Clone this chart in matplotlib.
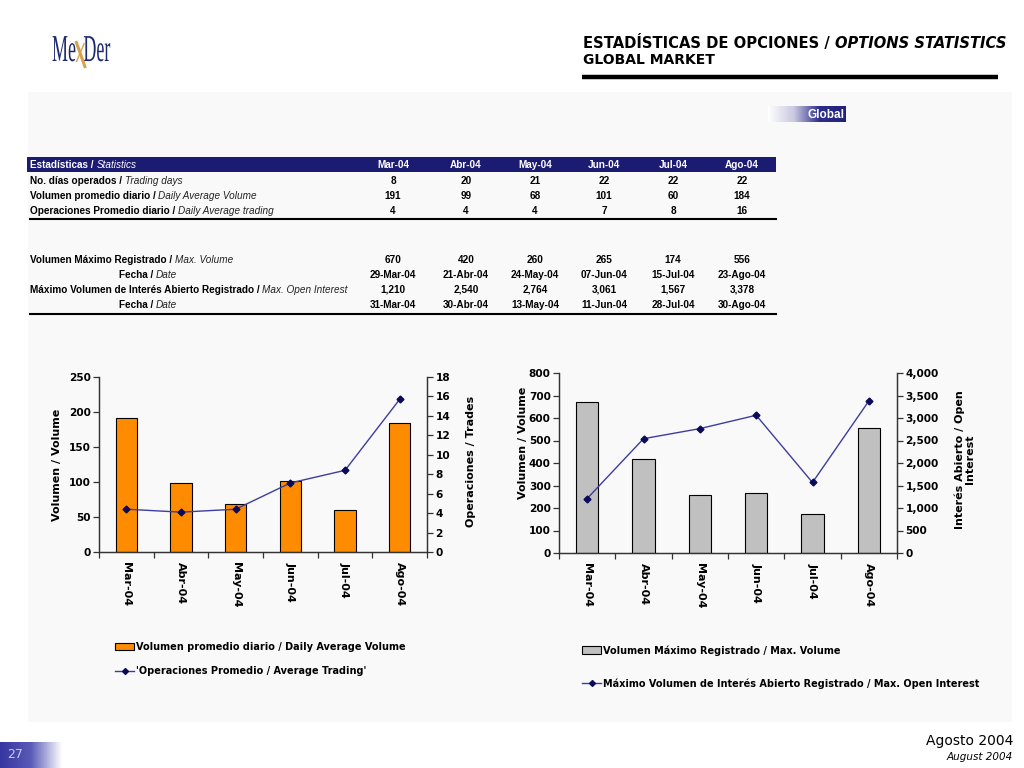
import numpy as np
import matplotlib
matplotlib.use("Agg")
import matplotlib.pyplot as plt
from matplotlib.patches import Rectangle, Patch, PathPatch
from matplotlib.lines import Line2D
from matplotlib.textpath import TextPath
from matplotlib.font_manager import FontProperties
from matplotlib.transforms import Affine2D
from matplotlib.colors import LinearSegmentedColormap
from matplotlib.ticker import FuncFormatter

# ---------------- data ----------------
months_table = ['Mar-04', 'Abr-04', 'May-04', 'Jun-04', 'Jul-04', 'Ago-04']
months_chart = ['Mar-04', 'Abr-04', 'May-04', 'Jun-04', 'Jul-04', 'Ago-04']
trading_days = [8, 20, 21, 22, 22, 22]
daily_avg_volume = [191, 99, 68, 101, 60, 184]
daily_avg_trading = [4, 4, 4, 7, 8, 16]
avg_trades_line = [4.4, 4.1, 4.4, 7.1, 8.4, 15.7]
max_volume = [670, 420, 260, 265, 174, 556]
max_volume_date = ['29-Mar-04', '21-Abr-04', '24-May-04', '07-Jun-04', '15-Jul-04', '23-Ago-04']
max_open_interest = [1210, 2540, 2764, 3061, 1567, 3378]
max_oi_date = ['31-Mar-04', '30-Abr-04', '13-May-04', '11-Jun-04', '28-Jul-04', '30-Ago-04']

NAVY = '#1b1b72'
ORANGE = '#FF8C00'
GRAY = '#C0C0C0'
LINE_C = '#3d3d9e'
MARK_C = '#0a0a5a'

fig = plt.figure(figsize=(10.24, 7.68), dpi=100)
fig.patch.set_facecolor('white')

# overlay axes in pixel coordinates
ov = fig.add_axes([0, 0, 1, 1], zorder=0)
ov.set_xlim(0, 1024)
ov.set_ylim(768, 0)
ov.axis('off')

# light content panel
ov.add_patch(Rectangle((28, 92), 984, 630, facecolor='#f9f9f9', edgecolor='none'))

# ---------------- logo ----------------
def path_text(s, x, y, sx, sy, color, family='Liberation Serif', weight='normal', style='normal'):
    tp = TextPath((0, 0), s, size=1, prop=FontProperties(family=family, weight=weight, style=style))
    tr = Affine2D().scale(sx, -sy).translate(x, y) + ov.transData
    ov.add_patch(PathPatch(tp, transform=tr, facecolor=color, edgecolor='none'))
    return tp.get_extents().x1 * sx

w = path_text('Me', 52, 61, 18, 38, '#1d2a6e')
xs = 52 + w
ov.plot([xs + 0.5, xs + 10], [41, 68], color='#d9a24a', lw=2.2, solid_capstyle='butt')
ov.plot([xs + 9, xs + 1], [43, 62], color='#d9a24a', lw=1.0, solid_capstyle='butt')
path_text('Der', xs + 8, 61, 18, 38, '#1d2a6e')

# ---------------- title ----------------
t1 = ov.text(583, 43, 'ESTADÍSTICAS DE OPCIONES / ', fontsize=10.6, fontweight='bold',
             ha='left', va='center', color='black', family='DejaVu Sans')
ov.annotate('OPTIONS STATISTICS', xy=(1, 0.5), xycoords=t1, fontsize=10.6, fontweight='bold',
            style='italic', ha='left', va='center', color='black', family='DejaVu Sans')
ov.text(583, 60, 'GLOBAL MARKET', fontsize=10, fontweight='bold', ha='left', va='center',
        color='black', family='DejaVu Sans')
ov.plot([582, 998], [77, 77], color='black', lw=3.2, solid_capstyle='butt')

# "Global" gradient tag
cmap_g = LinearSegmentedColormap.from_list('g', ['#ffffff', '#c8c8e0', '#2c2c8c', '#22227a'])
grad = np.linspace(0, 1, 256).reshape(1, -1)
ov.imshow(grad, extent=(768, 846, 122, 106), cmap=cmap_g, aspect='auto', zorder=1)
ov.text(826, 114.5, 'Global', color='white', fontsize=8.5, fontweight='bold', ha='center',
        va='center', family=['Liberation Sans', 'DejaVu Sans'], zorder=2)

# ---------------- table ----------------
TFAM = ['Liberation Sans Narrow', 'Liberation Sans', 'DejaVu Sans']
TFS = 7.2
col_x = [393, 466, 535, 604, 673, 742]
ov.add_patch(Rectangle((27, 157), 749, 15, facecolor=NAVY, edgecolor='none', zorder=1))
h = ov.text(30, 164.5, 'Estadísticas / ', color='white', fontsize=TFS, fontweight='bold',
            ha='left', va='center', family=TFAM, zorder=2)
ov.annotate('Statistics', xy=(1, 0.5), xycoords=h, color='white', fontsize=TFS, style='italic',
            ha='left', va='center', family=TFAM, zorder=2)
for cx, m in zip(col_x, months_table):
    ov.text(cx, 164.5, m, color='white', fontsize=TFS, fontweight='bold', ha='center',
            va='center', family=TFAM, zorder=2)

def row_label(x, y, bold, ital, ha='left'):
    t = ov.text(x, y, bold, fontsize=TFS, fontweight='bold', ha=ha, va='center', family=TFAM)
    ov.annotate(ital, xy=(1, 0.5), xycoords=t, fontsize=TFS, style='italic', ha='left',
                va='center', family=TFAM, color='#222222')

def fmt_int(v):
    return f'{v:,}'

rows1 = [
    (181, 'No. días operados / ', 'Trading days', trading_days),
    (196, 'Volumen promedio diario / ', 'Daily Average Volume', daily_avg_volume),
    (211, 'Operaciones Promedio diario / ', 'Daily Average trading', daily_avg_trading),
]
for y, b, i, vals in rows1:
    row_label(30, y, b, i, 'left')
    for cx, v in zip(col_x, vals):
        ov.text(cx, y, fmt_int(v), fontsize=TFS, fontweight='bold', ha='center', va='center', family=TFAM)
ov.plot([30, 776], [219, 219], color='black', lw=1.5)

rows2 = [
    (260, 'Volumen Máximo Registrado / ', 'Max. Volume', [fmt_int(v) for v in max_volume], 30, 'left'),
    (275, 'Fecha / ', 'Date', max_volume_date, 156, 'right'),
    (290, 'Máximo Volumen de Interés Abierto Registrado / ', 'Max. Open Interest',
     [fmt_int(v) for v in max_open_interest], 30, 'left'),
    (305, 'Fecha / ', 'Date', max_oi_date, 156, 'right'),
]
for y, b, i, vals, x0, ha in rows2:
    row_label(x0, y, b, i, ha)
    for cx, v in zip(col_x, vals):
        ov.text(cx, y, v, fontsize=TFS, fontweight='bold', ha='center', va='center', family=TFAM)
ov.plot([30, 776], [314, 314], color='black', lw=1.5)

# ---------------- footer ----------------
ov.text(1013, 741, 'Agosto 2004', fontsize=10, ha='right', va='center', family='DejaVu Sans')
ov.text(1013, 757, 'August 2004', fontsize=7.5, style='italic', ha='right', va='center', family='DejaVu Sans')
cmap_p = LinearSegmentedColormap.from_list('p', ['#3535a0', '#5a5ab8', '#ffffff'])
ov.imshow(grad, extent=(0, 62, 768, 742), cmap=cmap_p, aspect='auto', zorder=1)
ov.text(15, 755, '27', color='#c8c8ee', fontsize=9, ha='center', va='center', zorder=2)

# ---------------- charts ----------------
CF = 'DejaVu Sans'
TLS = 7.6
x = np.arange(len(months_chart))

def style_axes(ax, axr):
    for a in (ax, axr):
        a.set_facecolor('none')
        a.spines['top'].set_visible(False)
        for s in ('left', 'right', 'bottom'):
            a.spines[s].set_color('#333333')
            a.spines[s].set_linewidth(0.9)
    ax.set_xlim(-0.5, len(x) - 0.5)
    ax.set_xticks(np.arange(len(x) + 1) - 0.5)
    ax.set_xticklabels([])
    ax.tick_params(axis='x', which='major', length=4, width=0.9, color='#333333', direction='out')
    ax.set_xticks(x, minor=True)
    ax.set_xticklabels(months_chart, minor=True, rotation=270, fontsize=8, fontweight='bold',
                       family=CF, va='top', ha='center')
    ax.tick_params(axis='x', which='minor', length=0, pad=7)
    ax.tick_params(axis='y', length=4, width=0.9, color='#333333', labelsize=TLS, pad=2)
    axr.tick_params(axis='y', length=4, width=0.9, color='#333333', labelsize=TLS, pad=2)
    for lab in ax.get_yticklabels() + axr.get_yticklabels():
        lab.set_fontweight('bold')
        lab.set_family(CF)

# chart 1
ax1 = fig.add_axes([99 / 1024, 1 - 552 / 768, 328 / 1024, 175 / 768], zorder=2)
ax1r = ax1.twinx()
ax1.bar(x, daily_avg_volume, width=0.39, color=ORANGE, edgecolor='black', linewidth=0.8, zorder=2)
ax1r.plot(x, avg_trades_line, color=LINE_C, lw=1.0, marker='D', markersize=3.5,
          markerfacecolor=MARK_C, markeredgecolor=MARK_C, zorder=3)
ax1.set_ylim(0, 250)
ax1.set_yticks(np.arange(0, 251, 50))
ax1r.set_ylim(0, 18)
ax1r.set_yticks(np.arange(0, 19, 2))
style_axes(ax1, ax1r)
ax1.set_ylabel('Volumen / Volume', fontsize=8, fontweight='bold', family=CF)
ax1.yaxis.set_label_coords(-0.113, 0.5)
ax1r.set_ylabel('Operaciones / Trades', fontsize=8, fontweight='bold', family=CF, rotation=90)
ax1r.yaxis.set_label_coords(1.118, 0.52)

# chart 2
ax2 = fig.add_axes([559 / 1024, 1 - 553 / 768, 338 / 1024, 180 / 768], zorder=2)
ax2r = ax2.twinx()
ax2.bar(x, max_volume, width=0.4, color=GRAY, edgecolor='black', linewidth=0.8, zorder=2)
ax2r.plot(x, max_open_interest, color=LINE_C, lw=1.0, marker='D', markersize=3.5,
          markerfacecolor=MARK_C, markeredgecolor=MARK_C, zorder=3)
ax2.set_ylim(0, 800)
ax2.set_yticks(np.arange(0, 801, 100))
ax2r.set_ylim(0, 4000)
ax2r.set_yticks(np.arange(0, 4001, 500))
ax2r.yaxis.set_major_formatter(FuncFormatter(lambda v, p: f'{int(v):,}'))
style_axes(ax2, ax2r)
ax2.set_ylabel('Volumen / Volume', fontsize=8, fontweight='bold', family=CF)
ax2.yaxis.set_label_coords(-0.092, 0.61)
ax2r.set_ylabel('Interés Abierto / Open\nInterest', fontsize=8, fontweight='bold', family=CF,
                rotation=90, linespacing=1.0)
ax2r.yaxis.set_label_coords(1.17, 0.52)

# legends
lfont = {'family': CF, 'weight': 'bold', 'size': 7}
h1 = [Patch(facecolor=ORANGE, edgecolor='black', linewidth=0.8),
      Line2D([], [], color=LINE_C, lw=1.0, marker='D', markersize=3,
             markerfacecolor=MARK_C, markeredgecolor=MARK_C)]
fig.legend(h1, ['Volumen promedio diario / Daily Average Volume',
                "'Operaciones Promedio / Average Trading'"],
           loc='upper left', bbox_to_anchor=(115 / 1024, 1 - 642 / 768), frameon=False,
           prop=lfont, handlelength=2.0, handleheight=0.8, handletextpad=0.2, labelspacing=1.45,
           borderaxespad=0, borderpad=0)
h2 = [Patch(facecolor=GRAY, edgecolor='black', linewidth=0.8),
      Line2D([], [], color=LINE_C, lw=1.0, marker='D', markersize=3,
             markerfacecolor=MARK_C, markeredgecolor=MARK_C)]
fig.legend(h2, ['Volumen Máximo Registrado / Max. Volume',
                'Máximo Volumen de Interés Abierto Registrado / Max. Open Interest'],
           loc='upper left', bbox_to_anchor=(582 / 1024, 1 - 645 / 768), frameon=False,
           prop=lfont, handlelength=2.0, handleheight=0.8, handletextpad=0.2, labelspacing=2.35,
           borderaxespad=0, borderpad=0)

fig.savefig('out.png', dpi=100, facecolor='white')
